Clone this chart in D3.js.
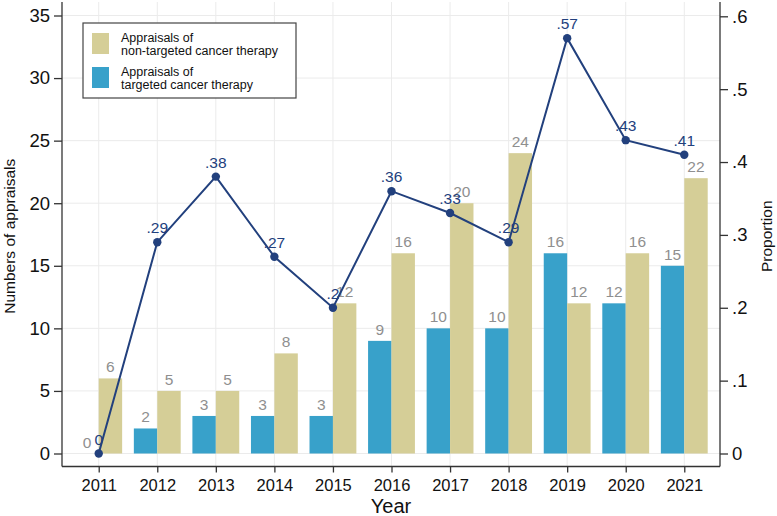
<!DOCTYPE html>
<html>
<head>
<meta charset="utf-8">
<script src="https://cdn.jsdelivr.net/npm/d3@7"></script>
<style>
  body { margin: 0; background: #fff; }
  text { font-family: "Liberation Sans", Arial, sans-serif; }
</style>
</head>
<body>
<div id="chart"></div>
<script>
// values
const years = [2011, 2012, 2013, 2014, 2015, 2016, 2017, 2018, 2019, 2020, 2021];
const targeted = [0, 2, 3, 3, 3, 9, 10, 10, 16, 12, 15];
const nonTargeted = [6, 5, 5, 8, 12, 16, 20, 24, 12, 16, 22];
const proportion = [0, .29, .38, .27, .2, .36, .33, .29, .57, .43, .41];
const countTicks = [0, 5, 10, 15, 20, 25, 30, 35];
const propTicks = [0, .1, .2, .3, .4, .5, .6];

const W = 777, H = 516;
const plotLeft = 62, plotRight = 720, plotBottom = 466.5, plotTop = 2;

const blue = "#38a1ca", tan = "#d5ce97", navy = "#22407d", grey = "#8f8f8f";

const svg = d3.select("#chart").append("svg")
    .attr("width", W)
    .attr("height", H);

const x = d3.scaleLinear()
    .domain([2010.373, 2021.61])
    .range([plotLeft, plotRight]);
const step = x(2012) - x(2011);
const barW = step * 0.4;

const y = d3.scaleLinear().domain([0, 35]).range([453.5, 15.5]);
const yP = d3.scaleLinear().domain([0, .6]).range([453.5, 16.3]);

// grid
svg.append("g").selectAll("line")
    .data(countTicks).join("line")
    .attr("x1", plotLeft).attr("x2", plotRight)
    .attr("y1", d => y(d)).attr("y2", d => y(d))
    .attr("stroke", "#ebebeb").attr("stroke-width", 1);
svg.append("g").selectAll("line")
    .data(years).join("line")
    .attr("x1", d => x(d)).attr("x2", d => x(d))
    .attr("y1", plotTop).attr("y2", plotBottom)
    .attr("stroke", "#ebebeb").attr("stroke-width", 1);

// bars
const rows = years.map((yr, i) => ({yr, t: targeted[i], n: nonTargeted[i], p: proportion[i]}));

svg.append("g").selectAll("rect")
    .data(rows).join("rect")
    .attr("x", d => x(d.yr) - barW)
    .attr("y", d => y(d.t))
    .attr("width", barW)
    .attr("height", d => y(0) - y(d.t))
    .attr("fill", blue);
svg.append("g").selectAll("rect")
    .data(rows).join("rect")
    .attr("x", d => x(d.yr))
    .attr("y", d => y(d.n))
    .attr("width", barW)
    .attr("height", d => y(0) - y(d.n))
    .attr("fill", tan);

// bar labels
const lab = svg.append("g")
    .attr("font-size", 15.5)
    .attr("fill", grey)
    .attr("text-anchor", "middle");
lab.selectAll("text.t")
    .data(rows).join("text")
    .attr("class", "t")
    .attr("x", d => x(d.yr) - barW / 2)
    .attr("y", d => y(d.t) - 6)
    .text(d => d.t);
lab.selectAll("text.n")
    .data(rows).join("text")
    .attr("class", "n")
    .attr("x", d => x(d.yr) + barW / 2)
    .attr("y", d => y(d.n) - 6)
    .text(d => d.n);

// proportion line
svg.append("path")
    .datum(rows)
    .attr("fill", "none")
    .attr("stroke", navy)
    .attr("stroke-width", 2)
    .attr("d", d3.line().x(d => x(d.yr)).y(d => yP(d.p)));
svg.append("g").selectAll("circle")
    .data(rows).join("circle")
    .attr("cx", d => x(d.yr))
    .attr("cy", d => yP(d.p))
    .attr("r", 4.2)
    .attr("fill", navy);
svg.append("g")
    .attr("font-size", 15.5)
    .attr("fill", navy)
    .attr("text-anchor", "middle")
    .selectAll("text")
    .data(rows).join("text")
    .attr("x", d => x(d.yr))
    .attr("y", d => yP(d.p) - 9)
    .text(d => d.p === 0 ? "0" : d3.format(".2f")(d.p).replace(/^0/, "").replace(/0$/, ""));

// axes
const fmtP = d => d === 0 ? "0" : d3.format(".1f")(d).replace(/^0/, "");

const gL = svg.append("g")
    .attr("transform", `translate(${plotLeft},0)`)
    .call(d3.axisLeft(y).tickValues(countTicks).tickSize(8).tickPadding(4));
const gR = svg.append("g")
    .attr("transform", `translate(${plotRight},0)`)
    .call(d3.axisRight(yP).tickValues(propTicks).tickFormat(fmtP).tickSize(8).tickPadding(4));
const gB = svg.append("g")
    .attr("transform", `translate(0,${plotBottom})`)
    .call(d3.axisBottom(x).tickValues(years).tickFormat(d3.format("d")).tickSize(6).tickPadding(7));

[gL, gR].forEach(g => {
  g.select(".domain").attr("d", `M0,${plotTop}V${plotBottom}`);
  g.selectAll("text").attr("font-size", 18.5).attr("font-family", "Liberation Sans, Arial, sans-serif").attr("fill", "#111");
});
gB.select(".domain").attr("d", `M${plotLeft},0H${plotRight}`);
gB.selectAll("text").attr("font-size", 16.5).attr("font-family", "Liberation Sans, Arial, sans-serif").attr("fill", "#111");
[gL, gR, gB].forEach(g => {
  g.selectAll(".domain, .tick line").attr("stroke", "#333").attr("stroke-width", 1.3);
});

// axis titles
svg.append("text")
    .attr("x", (plotLeft + plotRight) / 2)
    .attr("y", 512.5)
    .attr("text-anchor", "middle")
    .attr("font-size", 20)
    .attr("fill", "#111")
    .text("Year");
svg.append("text")
    .attr("transform", `translate(15,${(plotTop + plotBottom) / 2 + 2}) rotate(-90)`)
    .attr("text-anchor", "middle")
    .attr("font-size", 15.5)
    .attr("fill", "#111")
    .text("Numbers of appraisals");
svg.append("text")
    .attr("transform", `translate(772,${(plotTop + plotBottom) / 2 + 2}) rotate(-90)`)
    .attr("text-anchor", "middle")
    .attr("font-size", 15.5)
    .attr("fill", "#111")
    .text("Proportion");

// legend
const legend = svg.append("g").attr("transform", "translate(83,23)");
legend.append("rect")
    .attr("width", 213).attr("height", 75)
    .attr("fill", "#fff").attr("stroke", "#444").attr("stroke-width", 1.2);
const legendItems = [
  {color: tan, lines: ["Appraisals of", "non-targeted cancer therapy"]},
  {color: blue, lines: ["Appraisals of", "targeted cancer therapy"]}
];
legendItems.forEach((it, i) => {
  const g = legend.append("g").attr("transform", `translate(9,${10 + i * 34})`);
  g.append("rect").attr("width", 17).attr("height", 21).attr("fill", it.color);
  it.lines.forEach((t, k) => {
    g.append("text")
      .attr("x", 29).attr("y", 8.5 + k * 13.5)
      .attr("font-size", 12.5)
      .attr("fill", "#111")
      .text(t);
  });
});
</script>
</body>
</html>
